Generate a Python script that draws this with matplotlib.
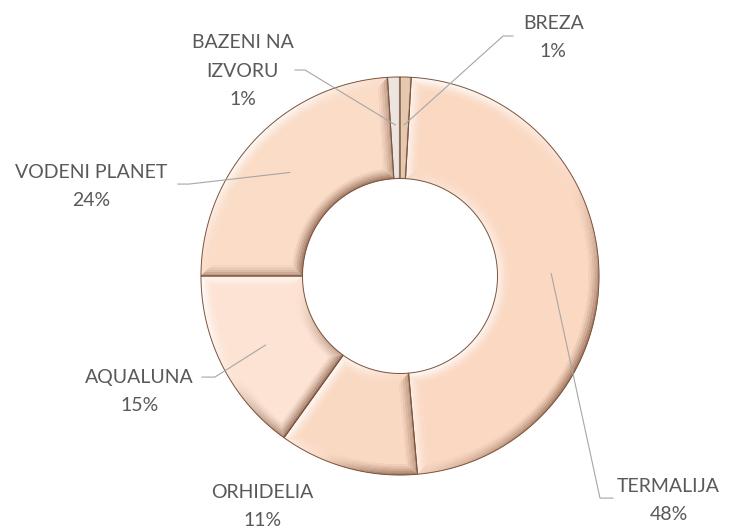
import numpy as np
import matplotlib
matplotlib.use("Agg")
import matplotlib.pyplot as plt
from matplotlib.patches import Polygon
from matplotlib.collections import PolyCollection
from matplotlib.colors import to_rgb

# ---- data ----
categories = ["BREZA", "TERMALIJA", "ORHIDELIA", "AQUALUNA", "VODENI PLANET", "BAZENI NA\nIZVORU"]
values = [0.9, 47.7, 11.3, 15.1, 24.0, 1.0]
face_colors = ["#E6C8AE", "#FAD8C2", "#FAD9C3", "#FCE3D3", "#FADCC7", "#ECE4DE"]

# label layout (axes data units, outer radius = 1)
label_pos = [(0.77, 1.20), (1.35, -1.13), (-0.69, -1.16), (-1.31, -0.58), (-1.55, 0.45), (-0.79, 1.03)]
leader_start = [(0.568, 1.206), (1.07, -1.116), None, (-0.995, -0.508), (-1.116, 0.462), (-0.528, 1.035)]
leader_elbow = [(0.518, 1.206), (1.005, -1.116), None, (-0.93, -0.508), (-1.06, 0.462), (-0.477, 1.035)]

R_OUT, R_IN = 1.0, 0.49
LEADER_R = 0.76

fig = plt.figure(figsize=(7.33, 5.29), dpi=100)
ax = fig.add_axes([0, 0, 1, 1])
ax.set_xlim(-400 / 199, (733 - 400) / 199)
ax.set_ylim(-253 / 199, 276 / 199)
ax.set_aspect("equal")
ax.axis("off")

total = float(sum(values))
cum = np.concatenate([[0], np.cumsum(values)]) / total
L = np.array([-1.0, 1.0]) / np.sqrt(2)
white = np.array([1, 1, 1.0])
dark = np.array(to_rgb("#7E5038"))


def outline(t1, t2, d, n=120):
    """Polygon for a slice (t1 > t2, degrees) inset by d."""
    ro, ri = R_OUT - d, R_IN + d
    ao = np.degrees(np.arcsin(min(d / ro, 1)))
    ai = np.degrees(np.arcsin(min(d / ri, 1)))
    th_o = np.radians(np.linspace(t1 - ao, t2 + ao, n))
    th_i = np.radians(np.linspace(t2 + ai, t1 - ai, n))
    pts_o = np.c_[ro * np.cos(th_o), ro * np.sin(th_o)]
    pts_i = np.c_[ri * np.cos(th_i), ri * np.sin(th_i)]
    return np.vstack([pts_o, pts_i])


for i, v in enumerate(values):
    t1 = 90 - 360 * cum[i]
    t2 = 90 - 360 * cum[i + 1]
    span_in = np.radians(t1 - t2) * R_IN
    bevel = min(0.055, 0.3 * span_in)
    face = np.array(to_rgb(face_colors[i]))
    nb = 5
    ds = np.linspace(0, bevel, nb + 1)
    for k in range(nb):
        p = outline(t1, t2, ds[k])
        q = outline(t1, t2, ds[k + 1])
        quads, cols = [], []
        m = len(p)
        for j in range(m):
            j2 = (j + 1) % m
            quad = [p[j], p[j2], q[j2], q[j]]
            nvec = (p[j] + p[j2]) / 2 - (q[j] + q[j2]) / 2
            nn = np.linalg.norm(nvec)
            if nn == 0:
                continue
            s = float(np.dot(nvec / nn, L))
            w = (1.0 - k / nb) ** 1.3
            if s > 0:
                c = face + (white - face) * min(1, s * 0.85 * w)
            else:
                c = face + (dark - face) * min(1, -s * 0.7 * w)
            quads.append(quad)
            cols.append(c)
        ax.add_collection(PolyCollection(quads, facecolors=cols, edgecolors=cols, linewidths=0.3, zorder=2))
    ax.add_patch(Polygon(outline(t1, t2, bevel), closed=True, facecolor=face, edgecolor="none", zorder=3))
    ax.add_patch(Polygon(outline(t1, t2, 0), closed=True, facecolor="none", edgecolor="#7A5440", linewidth=0.7, zorder=4))

# labels and leaders
for i, name in enumerate(categories):
    pct = round(values[i] / total * 100)
    x, y = label_pos[i]
    ax.text(x, y, f"{name}\n{pct}%", ha="center", va="center", fontsize=14,
            family=["Lato", "DejaVu Sans"], color="#595959", linespacing=1.8, zorder=6)
    if leader_start[i] is not None:
        mid = np.radians(90 - 360 * (cum[i] + cum[i + 1]) / 2)
        end = (LEADER_R * np.cos(mid), LEADER_R * np.sin(mid))
        xs = [leader_start[i][0], leader_elbow[i][0], end[0]]
        ys = [leader_start[i][1], leader_elbow[i][1], end[1]]
        ax.plot(xs, ys, color="#A6A6A6", linewidth=0.8, zorder=5)

fig.savefig("out.png", dpi=100, facecolor="white")
